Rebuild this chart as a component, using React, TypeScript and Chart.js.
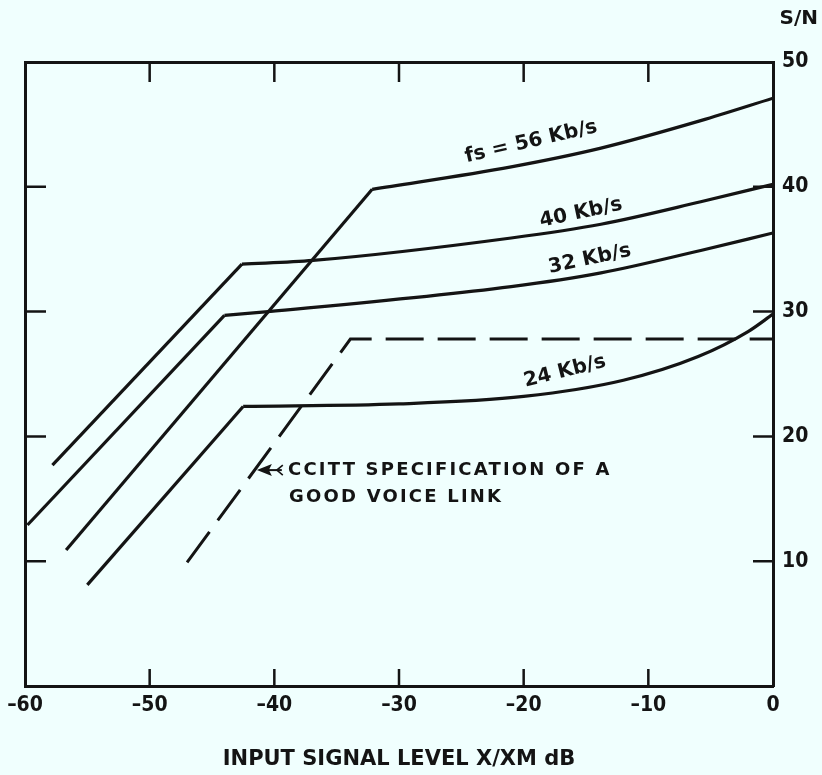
import React, { useEffect, useRef } from "react";
import { Chart, registerables } from "chart.js";

Chart.register(...registerables);

// ---- axes ----
const X_MIN = -60;
const X_MAX = 0;
const Y_MIN = 0;
const Y_MAX = 50;
const innerXTicks = [-50, -40, -30, -20, -10];
const innerYTicks = [10, 20, 30, 40];

// ---- series (input level dB, S/N dB) ----
const rate56X = [-56.7, -32.15, -21.0, -13.8, -5.8, 0];
const rate56Y = [10.9, 39.8, 41.6, 43.1, 45.3, 47.1];

const rate40X = [-57.8, -42.6, -36.9, -21.0, -13.8, -5.8, 0];
const rate40Y = [17.7, 33.8, 34.1, 35.9, 37.0, 38.8, 40.2];

const rate32X = [-59.8, -44.0, -40.5, -21.0, -13.8, -5.8, 0];
const rate32Y = [12.9, 29.7, 30.0, 32.0, 33.1, 34.9, 36.3];

const rate24X = [-55.0, -42.5, -30.0, -20.0, -12.0, -6.0, -2.0, 0];
const rate24Y = [8.1, 22.4, 22.6, 23.2, 24.5, 26.4, 28.4, 29.8];

const ccittX = [-47.0, -33.9, 0];
const ccittY = [9.9, 27.8, 27.8];

// ---- labels ----
const curveLabels = [
  { text: "fs = 56 Kb/s", x: -19.4, y: 43.6, angle: -13 },
  { text: "40 Kb/s", x: -15.4, y: 37.9, angle: -12 },
  { text: "32 Kb/s", x: -14.7, y: 34.2, angle: -12 },
  { text: "24 Kb/s", x: -16.7, y: 25.2, angle: -14 },
];
const ccittLines = ["CCITT SPECIFICATION OF A", "GOOD VOICE LINK"];
const xTitle = "INPUT SIGNAL LEVEL X/XM dB";
const yUnit = "S/N";

const BG = "#f0fffe";
const INK = "#141414";
const COND = "'Liberation Sans Narrow', 'DejaVu Sans Condensed', 'Liberation Sans', sans-serif";
const WIDE = "'DejaVu Sans', 'Liberation Sans', sans-serif";

const W = 822;
const H = 775;

function pts(xs: number[], ys: number[]) {
  return xs.map((x, i) => ({ x, y: ys[i] }));
}

const bgPlugin = {
  id: "bg",
  beforeDraw(chart: any) {
    const ctx = chart.ctx;
    ctx.save();
    ctx.fillStyle = BG;
    ctx.fillRect(0, 0, chart.width, chart.height);
    ctx.restore();
  },
};

const decorPlugin = {
  id: "decor",
  afterDatasetsDraw(chart: any) {
    const ctx = chart.ctx as CanvasRenderingContext2D;
    const xs = chart.scales.x;
    const ys = chart.scales.y;
    const ca = chart.chartArea;
    ctx.save();
    ctx.strokeStyle = INK;
    ctx.fillStyle = INK;
    ctx.lineWidth = 2.5;
    ctx.lineCap = "butt";
    // inward tick marks
    for (const v of innerXTicks) {
      const px = xs.getPixelForValue(v);
      ctx.beginPath();
      ctx.moveTo(px, ca.bottom);
      ctx.lineTo(px, ca.bottom - 17);
      ctx.moveTo(px, ca.top);
      ctx.lineTo(px, ca.top + 20);
      ctx.stroke();
    }
    for (const v of innerYTicks) {
      const py = ys.getPixelForValue(v);
      ctx.beginPath();
      ctx.moveTo(ca.left, py);
      ctx.lineTo(ca.left + 21, py);
      ctx.moveTo(ca.right, py);
      ctx.lineTo(ca.right - 20, py);
      ctx.stroke();
    }
    // curve labels
    ctx.font = `bold 20px ${WIDE}`;
    ctx.textAlign = "center";
    ctx.textBaseline = "middle";
    for (const l of curveLabels) {
      ctx.save();
      ctx.translate(xs.getPixelForValue(l.x), ys.getPixelForValue(l.y));
      ctx.rotate((l.angle * Math.PI) / 180);
      ctx.fillText(l.text, 0, 0);
      ctx.restore();
    }
    // CCITT annotation
    const tx = xs.getPixelForValue(-38.9);
    const ty1 = ys.getPixelForValue(17.3);
    const ty2 = ys.getPixelForValue(15.15);
    ctx.font = `bold 18px ${WIDE}`;
    (ctx as any).letterSpacing = "2.2px";
    ctx.textAlign = "left";
    ctx.fillText(ccittLines[0], tx, ty1);
    ctx.fillText(ccittLines[1], tx + 1, ty2);
    (ctx as any).letterSpacing = "0px";
    // arrow pointing to the dashed line
    const tip = xs.getPixelForValue(-41.4);
    const tail = xs.getPixelForValue(-39.4);
    ctx.lineWidth = 2;
    ctx.beginPath();
    ctx.moveTo(tip + 10, ty1);
    ctx.lineTo(tail, ty1);
    ctx.stroke();
    ctx.beginPath();
    ctx.moveTo(tip, ty1);
    ctx.lineTo(tip + 15, ty1 - 6);
    ctx.lineTo(tip + 12, ty1);
    ctx.lineTo(tip + 15, ty1 + 6);
    ctx.closePath();
    ctx.fill();
    ctx.lineWidth = 1.6;
    ctx.beginPath();
    ctx.moveTo(tail + 1, ty1 - 5);
    ctx.lineTo(tail - 5, ty1);
    ctx.lineTo(tail + 1, ty1 + 5);
    ctx.stroke();
    // S/N unit
    ctx.font = `bold 20px ${WIDE}`;
    ctx.textAlign = "right";
    ctx.fillText(yUnit, W - 4, 19);
    ctx.restore();
  },
};

export default function App() {
  const ref = useRef<HTMLCanvasElement>(null);

  useEffect(() => {
    document.body.style.margin = "0";
    document.body.style.background = BG;
    const canvas = ref.current!;
    const solid = {
      borderColor: INK,
      borderWidth: 3.2,
      pointRadius: 0,
      fill: false,
      xAxisID: "x",
      yAxisID: "y",
    };
    const core = {
      ...solid,
      borderColor: "rgba(210,225,225,0.55)",
      borderWidth: 0.8,
    };
    const datasets: any[] = [];
    const series = [
      [rate56X, rate56Y],
      [rate40X, rate40Y],
      [rate32X, rate32Y],
      [rate24X, rate24Y],
    ];
    for (const style of [solid, core]) {
      for (const [sx, sy] of series) {
        const p = pts(sx, sy);
        datasets.push({ ...style, data: p.slice(0, 2), tension: 0 });
        datasets.push({ ...style, data: p.slice(1), cubicInterpolationMode: "monotone" });
      }
    }
    datasets.push({
      ...solid,
      data: pts(ccittX, ccittY),
      tension: 0,
      borderDash: [38, 14],
      borderWidth: 3,
    });

    const tickFont = { family: COND, size: 21, weight: "bold" as const };
    const border = { display: true, width: 3, color: INK };

    const chart = new Chart(canvas, {
      type: "line",
      data: { datasets },
      options: {
        animation: false,
        responsive: false,
        maintainAspectRatio: false,
        devicePixelRatio: 1,
        layout: { padding: 0 },
        plugins: {
          legend: { display: false },
          tooltip: { enabled: false },
          title: { display: false },
        },
        elements: { point: { radius: 0 }, line: { capBezierPoints: true } },
        scales: {
          x: {
            type: "linear",
            position: "bottom",
            min: X_MIN,
            max: X_MAX,
            ticks: {
              stepSize: 10,
              autoSkip: false,
              maxRotation: 0,
              padding: 7,
              color: INK,
              font: tickFont,
              callback: (v: any) => (Number(v) === 0 ? "0" : "\u2013" + Math.abs(Number(v))),
            },
            grid: { display: false, drawTicks: false },
            border,
            title: {
              display: true,
              text: xTitle,
              color: INK,
              font: { family: WIDE, size: 21, weight: "bold" },
              padding: { top: 0, bottom: 3 },
            },
            afterFit: (s: any) => {
              s.height = 89;
            },
          },
          y: {
            type: "linear",
            position: "right",
            min: Y_MIN,
            max: Y_MAX,
            ticks: {
              stepSize: 10,
              padding: 9,
              color: INK,
              font: tickFont,
              callback: (v: any) => (Number(v) === 0 ? null : String(v)),
            },
            grid: { display: false, drawTicks: false },
            border,
            afterFit: (s: any) => {
              s.width = 49;
            },
          },
          xTop: {
            type: "linear",
            position: "top",
            min: X_MIN,
            max: X_MAX,
            ticks: { display: false },
            grid: { display: false, drawTicks: false },
            border,
            afterFit: (s: any) => {
              s.height = 62;
            },
          },
          yLeft: {
            type: "linear",
            position: "left",
            min: Y_MIN,
            max: Y_MAX,
            ticks: { display: false },
            grid: { display: false, drawTicks: false },
            border,
            afterFit: (s: any) => {
              s.width = 25;
            },
          },
        },
      } as any,
      plugins: [bgPlugin, decorPlugin],
    });
    return () => chart.destroy();
  }, []);

  return (
    <div style={{ position: "absolute", left: 0, top: 0, width: W, height: H, background: BG }}>
      <canvas ref={ref} width={W} height={H} style={{ display: "block", width: W, height: H }} />
    </div>
  );
}
